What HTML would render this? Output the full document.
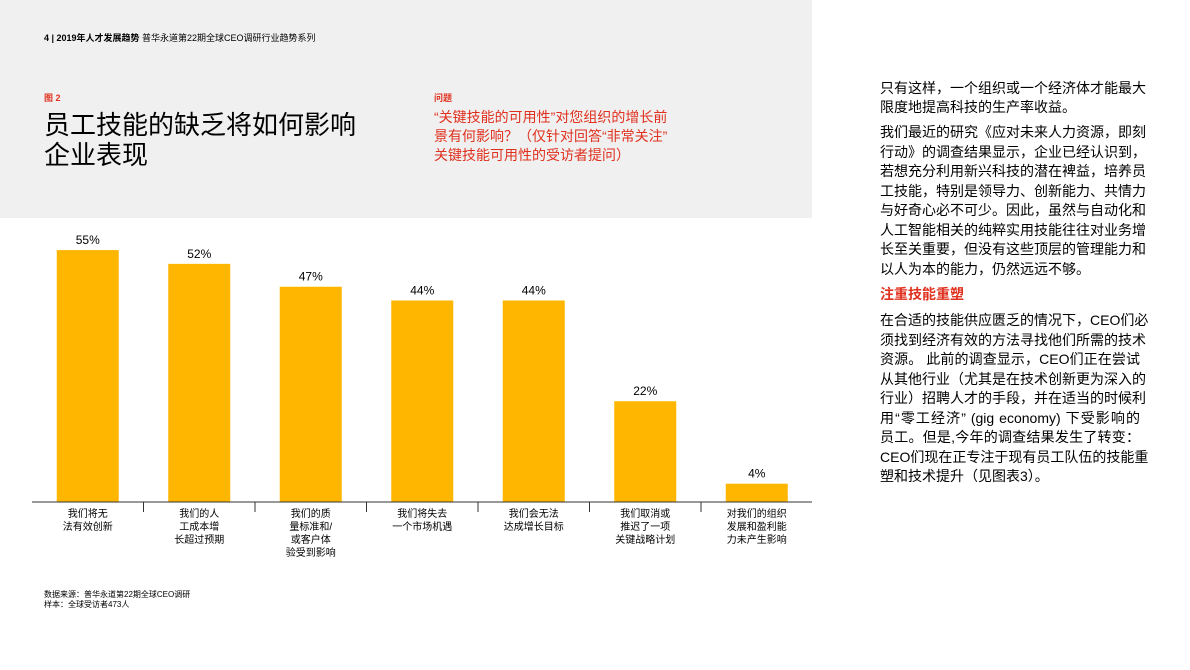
<!DOCTYPE html>
<html><head><meta charset="utf-8">
<style>
body{margin:0;width:1190px;height:670px;background:#fff;position:relative;overflow:hidden;font-family:"Liberation Sans","Noto Sans CJK SC",sans-serif;color:#000}
.abs{position:absolute}
.ln{position:absolute;left:880px;width:260px;font-size:14px;line-height:16px;text-align:justify;text-align-last:justify;white-space:nowrap}
.ln.l{text-align-last:left}
.xl{position:absolute;font-size:10px;line-height:13px;text-align:center;width:100px}
</style></head><body>
<div class="abs" style="left:0;top:0;width:812px;height:218px;background:#f0f0f0"></div>
<div class="abs" style="left:44px;top:31px;font-size:9px"><b>4 | 2019年人才发展趋势</b> 普华永道第22期全球CEO调研行业趋势系列</div>
<div class="abs" style="left:44px;top:91px;font-size:9px;color:#e0301e;font-weight:bold">图 2</div>
<div class="abs" style="left:44px;top:110px;font-size:26px;line-height:30px">员工技能的缺乏将如何影响<br>企业表现</div>
<div class="abs" style="left:434px;top:91px;font-size:9px;color:#e0301e;font-weight:bold">问题</div>
<div class="abs" style="left:434px;top:108px;font-size:14px;line-height:19px;color:#e0301e">“关键技能的可用性”对您组织的增长前<br>景有何影响？（仅针对回答“非常关注”<br>关键技能可用性的受访者提问）</div>
<svg class="abs" style="left:0;top:0" width="812" height="670" id="chart"></svg>
<div class="abs" style="left:44px;top:590px;font-size:8px;line-height:10px">数据来源：普华永道第22期全球CEO调研<br>样本：全球受访者473人</div>
<div id="text"></div>
<script>
const categories=["我们将无|法有效创新","我们的人|工成本增|长超过预期","我们的质|量标准和/|或客户体|验受到影响","我们将失去|一个市场机遇","我们会无法|达成增长目标","我们取消或|推迟了一项|关键战略计划","对我们的组织|发展和盈利能|力未产生影响"];
const values=[55,52,47,44,44,22,4];
const svg=document.getElementById('chart');
const NS='http://www.w3.org/2000/svg';
const base=502, scale=4.58, x0=32, step=111.5, bw=62;
const y=v=>base-v*scale;
const cx=i=>x0+step*(i+0.5);
values.forEach((v,i)=>{
 const r=document.createElementNS(NS,'rect');
 
 
 r.setAttribute('x',cx(i)-bw/2);r.setAttribute('y',y(v));r.setAttribute('width',bw);r.setAttribute('height',v*scale);r.setAttribute('fill','#ffb600');
 svg.appendChild(r);
 const t=document.createElementNS(NS,'text');
 
 
 t.setAttribute('x',cx(i));t.setAttribute('y',y(v)-6);t.setAttribute('text-anchor','middle');t.setAttribute('font-size','12');t.setAttribute('font-family','Liberation Sans, sans-serif');
 t.textContent=v+'%';svg.appendChild(t);
 if(i>0){const k=document.createElementNS(NS,'line');
 
 
 k.setAttribute('x1',x0+step*i);k.setAttribute('x2',x0+step*i);k.setAttribute('y1',base);k.setAttribute('y2',base+10);k.setAttribute('stroke','#333');svg.appendChild(k);}
 const d=document.createElement('div');d.className='xl';
 
 
 d.style.left=(cx(i)-50)+'px';d.style.top='508px';d.innerHTML=categories[i].split('|').join('<br>');document.body.appendChild(d);
});
const ax=document.createElementNS(NS,'line');


ax.setAttribute('x1',x0);ax.setAttribute('x2',812);ax.setAttribute('y1',base);ax.setAttribute('y2',base);ax.setAttribute('stroke','#333');svg.appendChild(ax);
const lines=[
[80,"只有这样，一个组织或一个经济体才能最大",0],[99,"限度地提高科技的生产率收益。",1],
[124,"我们最近的研究《应对未来人力资源，即刻",0],[144,"行动》的调查结果显示，企业已经认识到，",0],[163,"若想充分利用新兴科技的潜在裨益，培养员",0],[183,"工技能，特别是领导力、创新能力、共情力",0],[202,"与好奇心必不可少。因此，虽然与自动化和",0],[222,"人工智能相关的纯粹实用技能往往对业务增",0],[241,"长至关重要，但没有这些顶层的管理能力和",0],[261,"以人为本的能力，仍然远远不够。",1],
[312,"在合适的技能供应匮乏的情况下，CEO们必",0],[332,"须找到经济有效的方法寻找他们所需的技术",0],[351,"资源。 此前的调查显示，CEO们正在尝试",0],[371,"从其他行业（尤其是在技术创新更为深入的",0],[390,"行业）招聘人才的手段，并在适当的时候利",0],[410,"用“零工经济” (gig economy) 下受影响的",0],[429,"员工。但是,今年的调查结果发生了转变：",0],[449,"CEO们现在正专注于现有员工队伍的技能重",0],[468,"塑和技术提升（见图表3）。",1]];
lines.forEach(([t,s,l])=>{const d=document.createElement('div');d.className='ln'+(l?' l':'');


d.style.top=t+'px';d.textContent=s;document.body.appendChild(d);});
const h=document.createElement('div');h.className='ln l';


h.style.top='286px';h.style.color='#e0301e';h.style.fontWeight='bold';h.textContent='注重技能重塑';document.body.appendChild(h);
</script>
</body></html>
